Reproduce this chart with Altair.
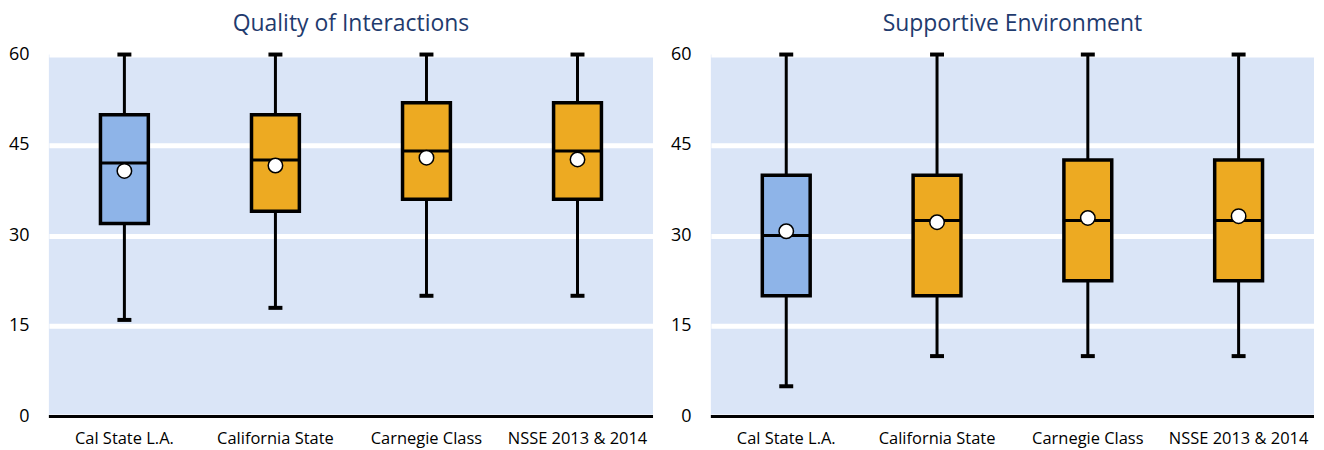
import altair as alt
import pandas as pd

cats = ["Cal State L.A.", "California State", "Carnegie Class", "NSSE 2013 & 2014"]
groups = ["self", "comparison", "comparison", "comparison"]

qi_min = [16, 18, 20, 20]
qi_q1 = [32, 34, 36, 36]
qi_med = [42, 42.5, 44, 44]
qi_q3 = [50, 50, 52, 52]
qi_max = [60, 60, 60, 60]
qi_mean = [40.7, 41.6, 42.9, 42.6]

se_min = [5, 10, 10, 10]
se_q1 = [20, 20, 22.5, 22.5]
se_med = [30, 32.5, 32.5, 32.5]
se_q3 = [40, 40, 42.5, 42.5]
se_max = [60, 60, 60, 60]
se_mean = [30.7, 32.2, 32.9, 33.2]

y_ticks = [0, 15, 30, 45, 60]

FONT = "Open Sans"
BG = "#DAE5F7"
BLUE = "#8EB4E8"
ORANGE = "#EDAA22"
TITLE_COLOR = "#1F3B6E"


def make_df(mn, q1, med, q3, mx, mean):
    return pd.DataFrame({
        "cat": cats, "grp": groups, "min": mn, "q1": q1, "med": med,
        "q3": q3, "max": mx, "mean": mean,
    })


def panel(title, df, width):
    yscale = alt.Scale(domain=[0, 60], nice=False, zero=True)
    base = alt.Chart(df).encode(
        x=alt.X("cat:N", sort=cats, title=None,
                scale=alt.Scale(paddingInner=0, paddingOuter=0),
                axis=alt.Axis(labelAngle=0, labelFontSize=16.5, labelFont=FONT,
                              labelColor="black", domain=False, ticks=False,
                              labelPadding=14, grid=False))
    )
    whisker = base.mark_rule(color="black", strokeWidth=3, opacity=1).encode(
        y=alt.Y("min:Q", scale=yscale, title=None,
                axis=alt.Axis(values=y_ticks, labelFontSize=18, labelFont=FONT,
                              labelColor="black", domain=False, ticks=False,
                              grid=True, gridColor="white", gridWidth=5,
                              gridOpacity=1,
                              labelPadding=20, minExtent=41, maxExtent=41)),
        y2="max:Q",
    )
    cap_lo = base.mark_tick(color="black", thickness=4, size=14, opacity=1).encode(y="min:Q")
    cap_hi = base.mark_tick(color="black", thickness=4, size=14, opacity=1).encode(y="max:Q")
    box = base.mark_bar(size=48, stroke="black", strokeWidth=3.5, opacity=1).encode(
        y="q1:Q", y2="q3:Q",
        color=alt.Color("grp:N", scale=alt.Scale(domain=["self", "comparison"],
                                                  range=[BLUE, ORANGE]),
                        legend=None),
    )
    median = base.mark_tick(color="black", thickness=3, size=50, opacity=1).encode(y="med:Q")
    mean = base.mark_point(filled=True, fill="white", stroke="black",
                           strokeWidth=1.5, size=210, opacity=1).encode(y="mean:Q")
    zero = alt.Chart(pd.DataFrame({"v": [0]})).mark_rule(
        color="black", strokeWidth=3, opacity=1).encode(y=alt.Y("v:Q"))
    return alt.layer(whisker, cap_lo, cap_hi, box, median, mean, zero).properties(
        width=width, height=363,
        title=alt.TitleParams(title, fontSize=23, font=FONT, color=TITLE_COLOR,
                              fontWeight="normal", offset=10, anchor="middle"),
    )


left = panel("Quality of Interactions",
             make_df(qi_min, qi_q1, qi_med, qi_q3, qi_max, qi_mean), 606)
right = panel("Supportive Environment",
              make_df(se_min, se_q1, se_med, se_q3, se_max, se_mean), 605)

chart = alt.hconcat(left, right, spacing=15).properties(
    padding={"left": 0, "top": 4, "right": 0, "bottom": 0},
    background="white",
).configure_view(fill=BG, strokeWidth=0)

chart.save("out.html", embed_options={"renderer": "svg", "actions": False})
